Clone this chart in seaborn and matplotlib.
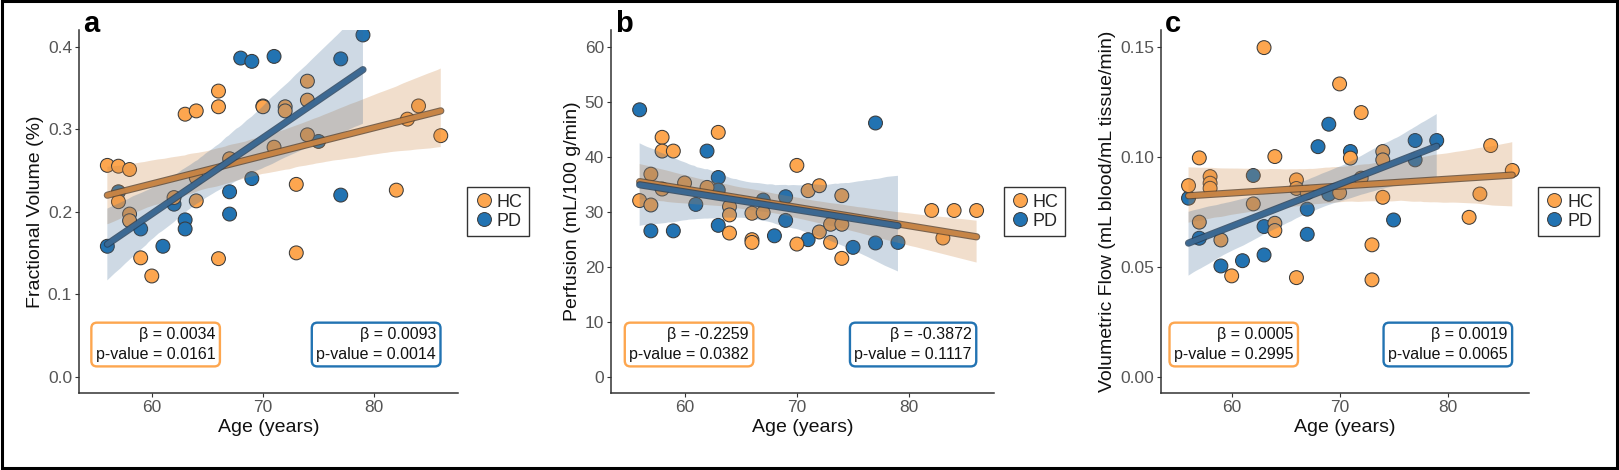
import numpy as np
import pandas as pd
import matplotlib
matplotlib.use("Agg")
import matplotlib.pyplot as plt
import matplotlib.patheffects as pe
from matplotlib.lines import Line2D
from matplotlib.patches import Rectangle
import seaborn as sns

# ---------------- data ----------------
groups = ["HC", "PD"]

# panel a: fractional volume
hc_age_a = [56, 57, 58, 57, 58, 58, 59, 60, 63, 64, 64, 64, 62, 66, 66, 66, 67, 70,
            71, 72, 72, 73, 73, 74, 74, 74, 82, 83, 84, 86]
hc_vol = [0.256, 0.255, 0.251, 0.212, 0.197, 0.189, 0.144, 0.122, 0.318, 0.322, 0.241,
          0.213, 0.217, 0.346, 0.327, 0.143, 0.264, 0.327, 0.278, 0.327, 0.322, 0.233,
          0.150, 0.358, 0.335, 0.293, 0.226, 0.312, 0.328, 0.292]
pd_age_a = [56, 57, 59, 61, 62, 63, 63, 67, 67, 68, 69, 69, 70, 71, 75, 77, 77, 79]
pd_vol = [0.158, 0.224, 0.179, 0.158, 0.209, 0.190, 0.179, 0.224, 0.197, 0.386, 0.382,
          0.240, 0.328, 0.388, 0.285, 0.385, 0.220, 0.414]

# panel b: perfusion
hc_age_b = [56, 57, 57, 58, 58, 58, 59, 60, 62, 63, 64, 64, 64, 66, 66, 66, 67, 70, 70,
            71, 72, 72, 73, 73, 74, 74, 74, 82, 83, 84, 86]
hc_perf = [32.0, 36.8, 31.2, 43.5, 41.0, 34.1, 41.0, 35.2, 34.4, 44.4, 30.9, 29.4, 26.1,
           29.7, 24.9, 24.4, 29.8, 38.4, 24.1, 33.8, 34.7, 26.3, 27.7, 24.4, 32.9, 27.7,
           21.5, 30.2, 25.2, 30.2, 30.2]
pd_age_b = [56, 57, 59, 61, 62, 63, 63, 63, 67, 68, 69, 69, 71, 75, 77, 77, 79]
pd_perf = [48.5, 26.5, 26.5, 31.3, 41.0, 36.2, 33.9, 27.5, 32.1, 25.6, 32.7, 28.4, 24.9,
           23.5, 46.1, 24.3, 24.4]

# panel c: volumetric flow
hc_age_c = [56, 57, 57, 58, 58, 58, 59, 60, 62, 63, 64, 64, 64, 66, 66, 66, 67, 70, 70,
            71, 72, 72, 73, 73, 74, 74, 74, 82, 83, 84, 86]
hc_flow = [0.0868, 0.0994, 0.0702, 0.0909, 0.0879, 0.0856, 0.0621, 0.0458, 0.0785,
           0.1495, 0.1000, 0.0697, 0.0664, 0.0894, 0.0855, 0.0450, 0.0836, 0.1330,
           0.0836, 0.0993, 0.1200, 0.0902, 0.0599, 0.0440, 0.1023, 0.0985, 0.0815,
           0.0724, 0.0830, 0.1050, 0.0937]
pd_age_c = [56, 57, 59, 61, 62, 63, 63, 67, 67, 68, 69, 69, 71, 75, 77, 77, 79]
pd_flow = [0.0811, 0.0629, 0.0503, 0.0527, 0.0914, 0.0682, 0.0553, 0.0761, 0.0647,
           0.1045, 0.1147, 0.0829, 0.1023, 0.0712, 0.1073, 0.0985, 0.1073]

panel_letters = ["a", "b", "c"]
y_labels = ["Fractional Volume (%)", "Perfusion (mL/100 g/min)",
            "Volumetric Flow (mL blood/mL tissue/min)"]
x_label = "Age (years)"
x_ticks = [60, 70, 80]
y_ticks_a = [0.0, 0.1, 0.2, 0.3, 0.4]
y_ticks_b = [0, 10, 20, 30, 40, 50, 60]
y_ticks_c = [0.00, 0.05, 0.10, 0.15]
y_fmt = ["{:.1f}", "{:.0f}", "{:.2f}"]
hc_stats = [("0.0034", "0.0161"), ("-0.2259", "0.0382"), ("0.0005", "0.2995")]
pd_stats = [("0.0093", "0.0014"), ("-0.3872", "0.1117"), ("0.0019", "0.0065")]

# ---------------- style ----------------
sns.set_theme(style="ticks")
plt.rcParams["font.family"] = ["Liberation Sans", "DejaVu Sans"]

pt_colors = {"HC": "#FDA64F", "PD": "#2273B2"}
band_colors = {"HC": "#FBA057", "PD": "#5B8FC6"}
line_colors = {"HC": "#CC8746", "PD": "#3C6A95"}
edge_line = {"HC": "#5C4530", "PD": "#253F59"}

W, H = 1619, 470
fig = plt.figure(figsize=(W / 100, H / 100), dpi=100)

ax_px = [(79, 458), (611, 994), (1161, 1529)]
top_px, bot_px = 30, 393.2
axes = []
for (x0, x1) in ax_px:
    axes.append(fig.add_axes([x0 / W, (H - bot_px) / H, (x1 - x0) / W, (bot_px - top_px) / H]))

panels = [
    (hc_age_a, hc_vol, pd_age_a, pd_vol, y_ticks_a),
    (hc_age_b, hc_perf, pd_age_b, pd_perf, y_ticks_b),
    (hc_age_c, hc_flow, pd_age_c, pd_flow, y_ticks_c),
]

for i, (ax, (ha, hv, pa, pv, yt)) in enumerate(zip(axes, panels)):
    df = pd.DataFrame({
        "age": list(pa) + list(ha),
        "value": list(pv) + list(hv),
        "group": ["PD"] * len(pa) + ["HC"] * len(ha),
    })
    sns.scatterplot(data=df, x="age", y="value", hue="group", palette=pt_colors,
                    s=100, edgecolor="#3a3a3a", linewidth=0.75, legend=False, ax=ax,
                    zorder=1)
    for g in groups:
        sub = df[df["group"] == g]
        n_before = len(ax.collections)
        sns.regplot(data=sub, x="age", y="value", scatter=False, ci=95, n_boot=1000,
                    seed=3, truncate=True, color=band_colors[g], ax=ax,
                    line_kws=dict(color=line_colors[g], lw=3.6, alpha=0.95,
                                  path_effects=[pe.Stroke(linewidth=5.2, foreground=edge_line[g], alpha=0.8),
                                                pe.Normal()]))
        for coll in ax.collections[n_before:]:
            coll.set_alpha(0.27 if g == "HC" else 0.25)
            coll.set_edgecolor("none")

    M = yt[-1]
    ax.set_ylim(-0.05 * M, 1.05 * M)
    ax.set_xlim(53.45, 87.55)
    ax.set_xticks(x_ticks)
    ax.set_xticklabels([str(t) for t in x_ticks])
    ax.set_yticks(yt)
    ax.set_yticklabels([y_fmt[i].format(t) for t in yt])
    ax.set_xlabel(x_label, fontsize=14, color="#111111", labelpad=3)
    ax.set_ylabel(y_labels[i], fontsize=14, color="#111111", labelpad=3)
    ax.tick_params(axis="both", length=3, width=0.8, color="#333333",
                   labelcolor="#555555", labelsize=12.5, pad=2)
    sns.despine(ax=ax)
    for s in ["left", "bottom"]:
        ax.spines[s].set_color("#333333")
        ax.spines[s].set_linewidth(1.1)

    # panel letter
    ax.text(0.01, 0.995, panel_letters[i], transform=ax.transAxes, fontsize=21,
            fontweight="bold", ha="left", va="baseline", color="black")

    # stat boxes
    hb, hp = hc_stats[i]
    pb, pp = pd_stats[i]
    ax.text(0.36, 0.134, f"\u03b2 = {hb}\np-value = {hp}", transform=ax.transAxes,
            ha="right", va="center", multialignment="right", fontsize=11.5,
            linespacing=1.4, color="#111111",
            bbox=dict(boxstyle="round,pad=0.28,rounding_size=0.35", fc="white",
                      ec=pt_colors["HC"], lw=1.7))
    ax.text(0.942, 0.134, f"\u03b2 = {pb}\np-value = {pp}", transform=ax.transAxes,
            ha="right", va="center", multialignment="right", fontsize=11.5,
            linespacing=1.4, color="#111111",
            bbox=dict(boxstyle="round,pad=0.28,rounding_size=0.35", fc="white",
                      ec=pt_colors["PD"], lw=1.7))

    handles = [Line2D([], [], ls="", marker="o", markersize=10,
                      markerfacecolor=pt_colors[g], markeredgecolor="#3a3a3a",
                      markeredgewidth=0.7) for g in groups]
    leg = ax.legend(handles, groups, loc="center left", bbox_to_anchor=(1.025, 0.5),
                    frameon=True, fancybox=False, edgecolor="#333333", framealpha=1,
                    fontsize=13, handletextpad=0.15, borderpad=0.35,
                    labelspacing=0.1, handlelength=1.1, borderaxespad=0)
    leg.get_frame().set_linewidth(1.0)

fig.patches.append(Rectangle((0.0015, 0.004), 0.997, 0.993, transform=fig.transFigure,
                             fill=False, ec="black", lw=2.2))

fig.savefig("out.png", dpi=100)
